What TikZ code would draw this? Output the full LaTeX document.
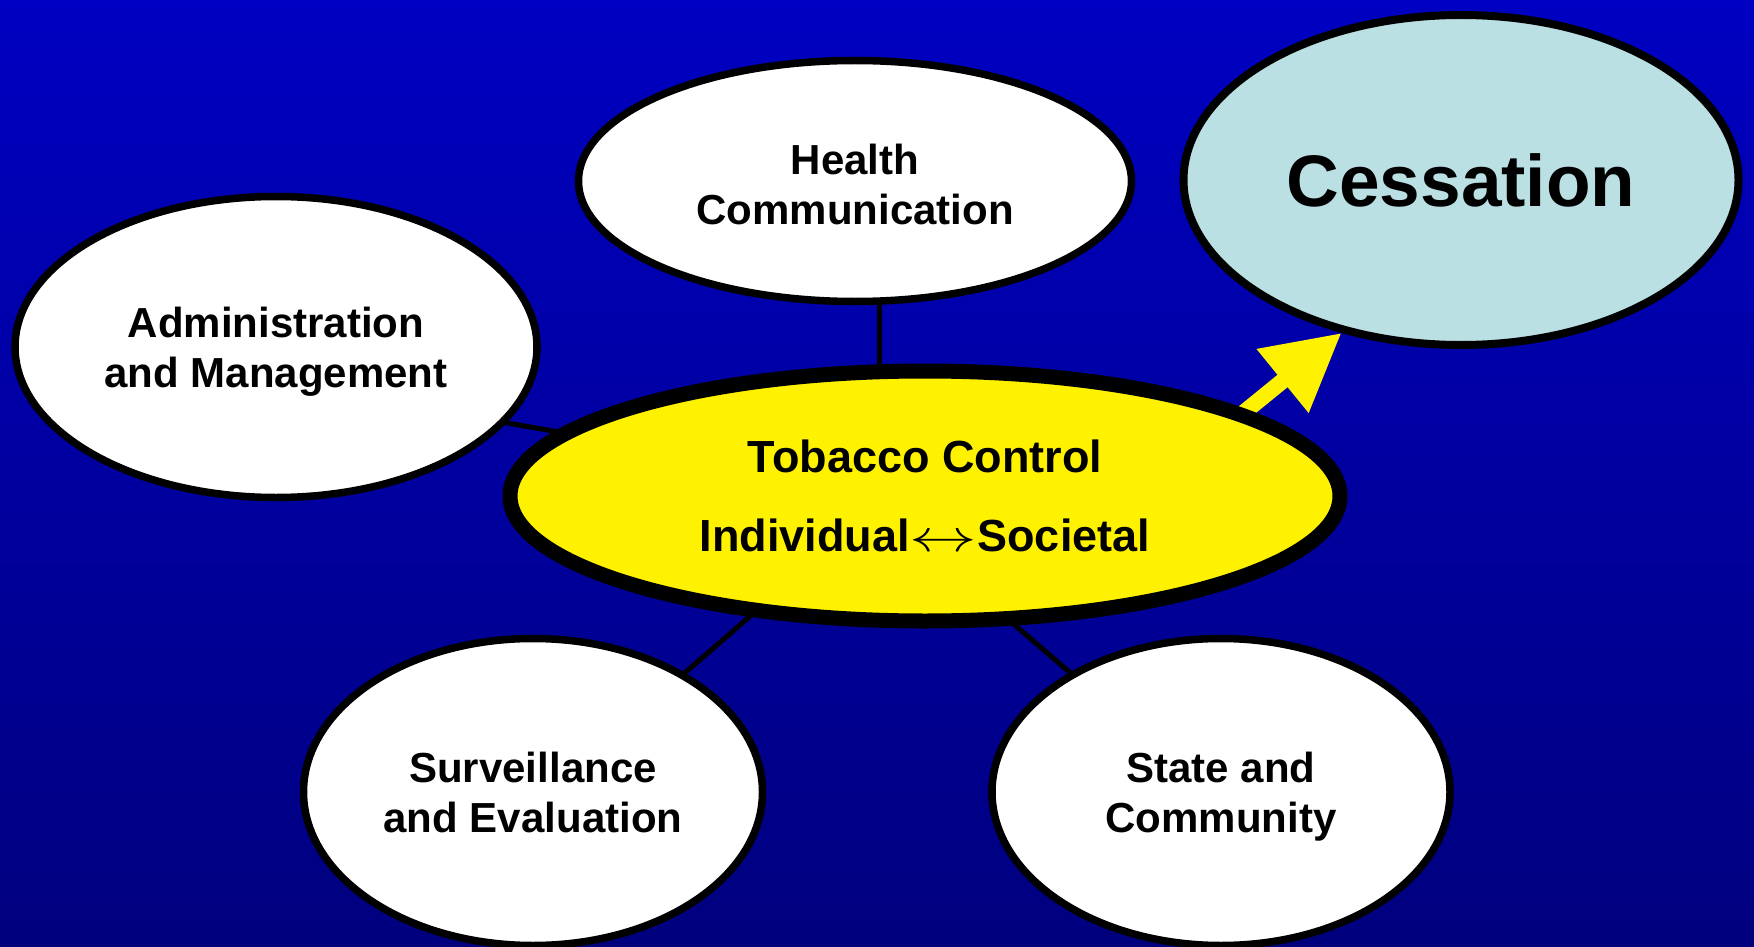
\RequirePackage{fix-cm}
\documentclass[tikz,border=0pt]{standalone}
\usepackage{fontspec}
\setmainfont{Liberation Sans}
\usepackage{graphicx}
\usetikzlibrary{shapes.geometric,calc,arrows.meta}
\pgfdeclarelayer{back}
\pgfdeclarelayer{bg}
\pgfsetlayers{back,bg,main}
\definecolor{bgtop}{RGB}{0,0,194}
\definecolor{bgbot}{RGB}{0,0,126}
\definecolor{cessfill}{RGB}{186,224,227}
\newcommand\nodepth[1]{\raisebox{0pt}[\height][0pt]{#1}}
\newcommand\toppad[2]{\raisebox{0pt}[\dimexpr\height+#1\relax][\depth]{#2}}
\begin{document}
\begin{tikzpicture}[x=1pt,y=-1pt,
  bubble/.style={ellipse, draw=black, line width=7.5pt, fill=white, inner sep=0pt,
    align=center, font=\fontsize{42}{50}\selectfont\bfseries},
  link/.style={draw=black, line width=5pt},
  bigarrow/.style={draw=yellow, line width=16pt, -{Triangle[length=76pt,width=78pt]}}
  ]
\useasboundingbox (0,0) rectangle (1754,947);
\begin{pgfonlayer}{back}
  \fill[top color=bgtop, bottom color=bgbot] (0,0) rectangle (1754,947);
\end{pgfonlayer}

\node[bubble, minimum width=522pt, minimum height=301pt] (adm) at (276,347)
  {Administration\\\nodepth{and Management}};
\node[bubble, minimum width=553pt, minimum height=241pt] (hc) at (855,181)
  {\toppad{6pt}{Health}\\Communication};
\node[bubble, fill=cessfill, line width=8pt, minimum width=555pt, minimum height=330pt,
  font=\fontsize{73}{88}\selectfont\bfseries] (cess) at (1461,180) {Cessation};
\node[bubble, fill=yellow, line width=15pt, minimum width=830pt, minimum height=250pt,
  font=\fontsize{45}{54}\selectfont\bfseries] (tc) at (925,496)
  {Tobacco Control\\[25pt]Individual\scalebox{1.5}[1]{$\leftrightarrow$}Societal};
\node[bubble, minimum width=459pt, minimum height=307pt] (sv) at (533,792)
  {Surveillance\\and Evaluation};
\node[bubble, minimum width=458pt, minimum height=307pt] (st) at (1221,792)
  {State and\\\nodepth{Community}};

\begin{pgfonlayer}{bg}
  \draw[link] ($(adm.center)+(164,64)$) -- ($(tc.center)+(-305,-53)$);
  \draw[link] ($(hc.center)+(24,69)$) -- ($(tc.center)+(-46,-76)$);
  \draw[link] ($(sv.center)+(117,-89)$) -- ($(tc.center)+(-140,90)$);
  \draw[link] ($(st.center)+(-119,-92)$) -- ($(tc.center)+(57,101)$);
  \draw[bigarrow] ($(tc.center)+(263,-38)$) -- (cess.-128.7);
\end{pgfonlayer}
\end{tikzpicture}
\end{document}
